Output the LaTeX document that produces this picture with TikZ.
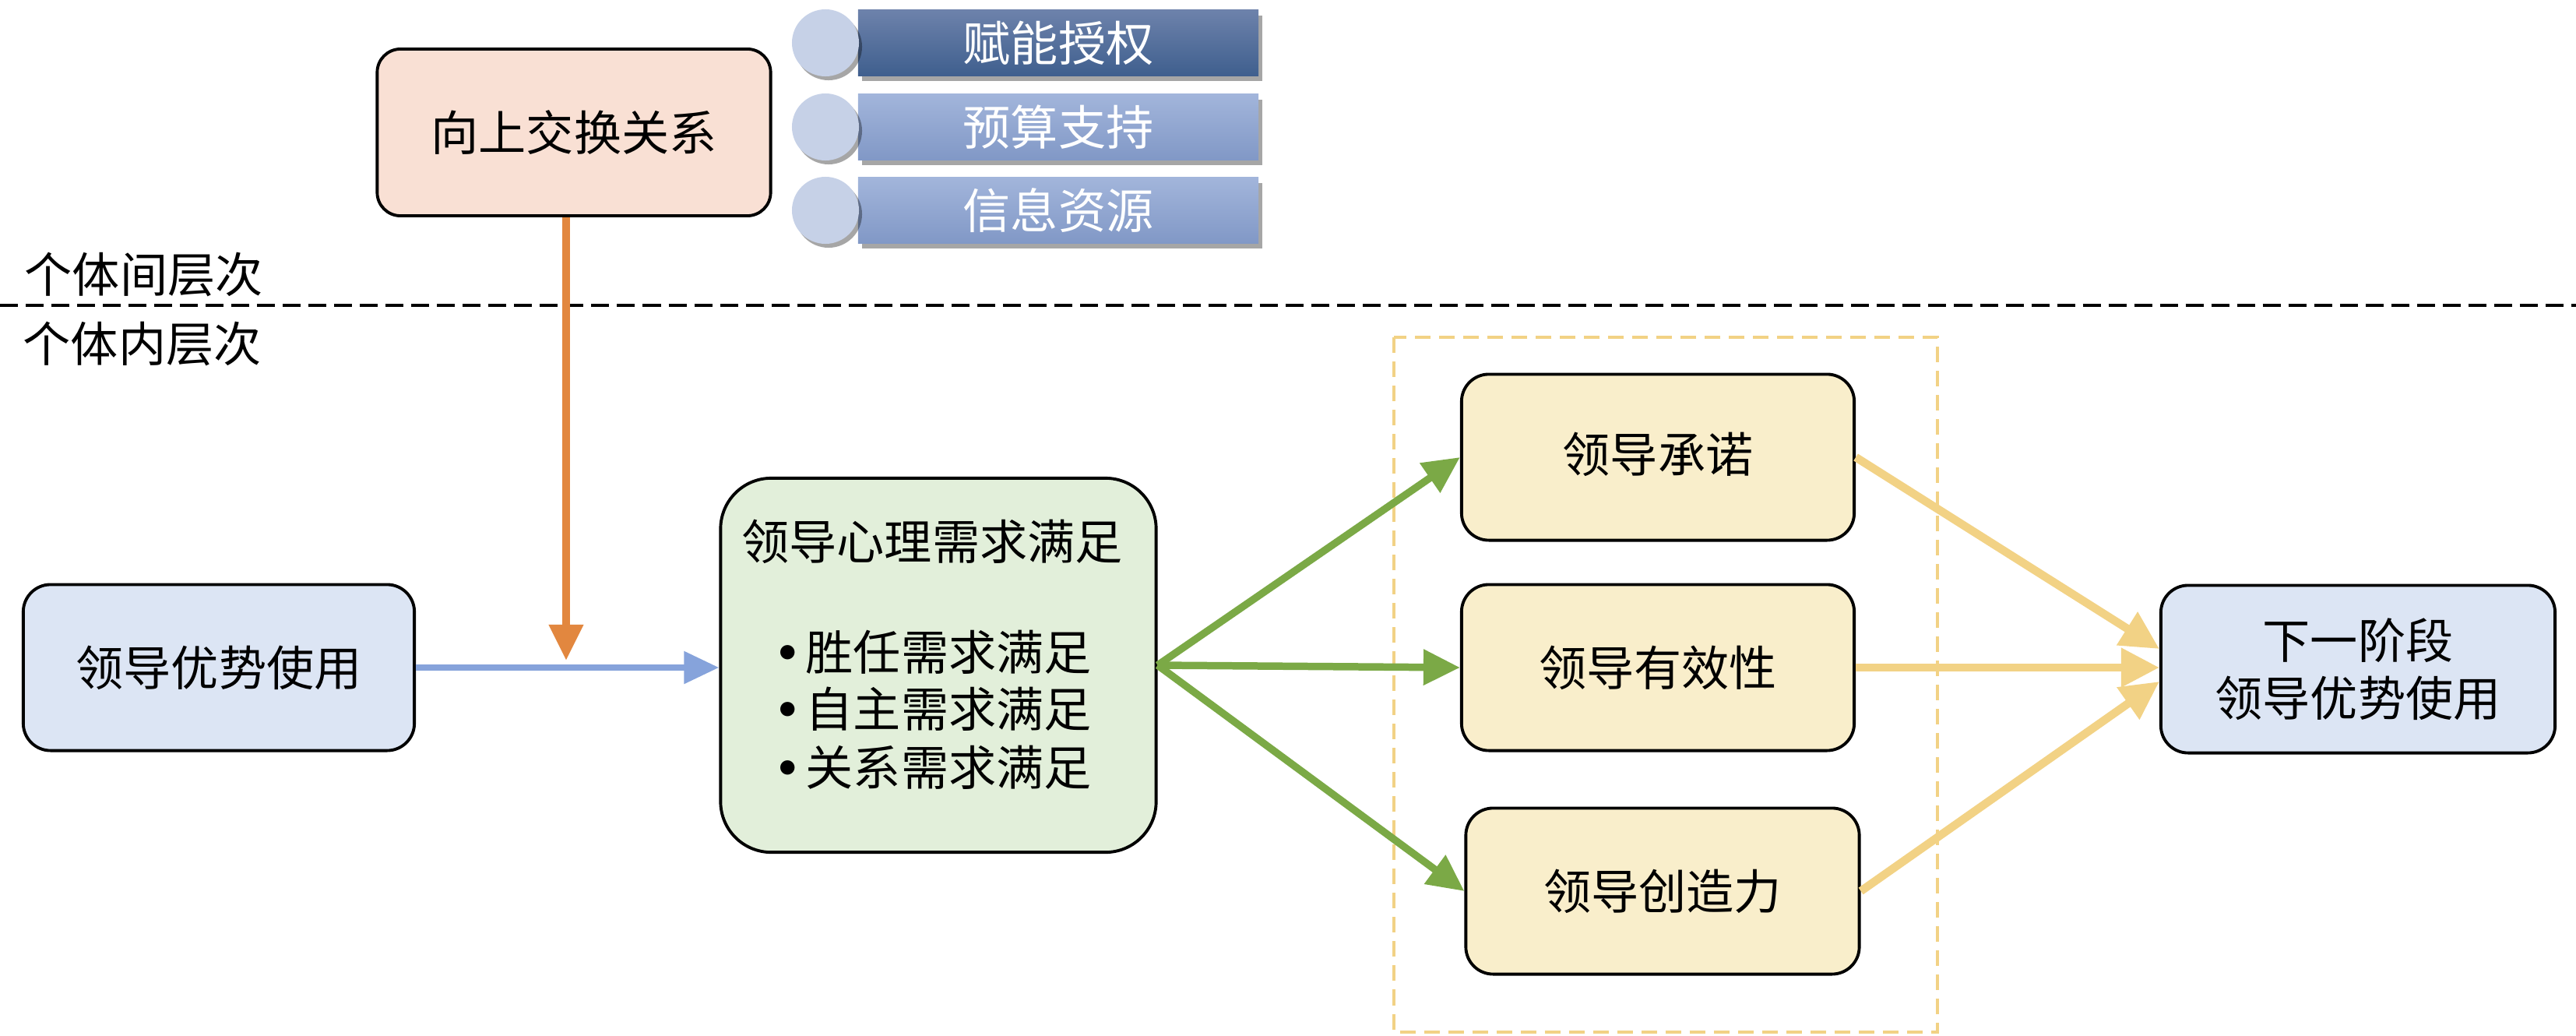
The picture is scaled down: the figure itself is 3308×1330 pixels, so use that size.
\documentclass[tikz,border=0pt]{standalone}
\usepackage{fontspec}
\setmainfont{Noto Sans CJK SC}
\usetikzlibrary{arrows.meta,shadows,calc}
\definecolor{peach}{HTML}{F9E0D4}
\definecolor{lblue}{HTML}{DCE5F4}
\definecolor{lgreen}{HTML}{E2EFDA}
\definecolor{lyellow}{HTML}{F9EECB}
\definecolor{goldA}{HTML}{F2D285}
\definecolor{greenA}{HTML}{7BA946}
\definecolor{blueA}{HTML}{86A3DB}
\definecolor{orangeA}{HTML}{E2873F}
\definecolor{tabDtop}{HTML}{6D82AB}
\definecolor{tabDbot}{HTML}{3F5F8E}
\definecolor{tabLtop}{HTML}{A2B5DB}
\definecolor{tabLbot}{HTML}{8198C6}
\definecolor{circC}{HTML}{C6D1E7}
\newcommand\fsz{\fontsize{17.4pt}{21pt}\selectfont}
\newcommand\bdot{\makebox[0.46cm][c]{\raisebox{4.3pt}{\fontsize{5.8pt}{6pt}\selectfont ●}}}
\begin{document}
\begin{tikzpicture}[x=0.01cm,y=-0.01cm,
  box/.style={draw=black, line width=1.1pt, rounded corners=0.35cm, font=\fsz, align=center, inner sep=0pt},
  txt/.style={font=\fsz, inner sep=0pt},
  tabbar/.style={draw=none, minimum width=5.14cm, minimum height=0.84cm, inner sep=0pt, font=\fsz, text=white,
     drop shadow={shadow xshift=0.05cm, shadow yshift=-0.07cm, opacity=0.35, fill=black}},
  tabdark/.style={tabbar, top color=tabDtop, bottom color=tabDbot},
  tablight/.style={tabbar, top color=tabLtop, bottom color=tabLbot},
  tabcirc/.style={circle, draw=none, fill=circC, minimum size=0.86cm, inner sep=0pt,
     drop shadow={shadow xshift=0.04cm, shadow yshift=-0.05cm, opacity=0.35, fill=black}},
  conn/.style={-{Triangle[length=0.47cm,width=0.44cm]}},
  ]
\useasboundingbox (0,0) rectangle (3308,1330);

% dashed frame around outcomes
\draw[goldA, line width=1.1pt, dash pattern=on 0.2cm off 0.11cm] (1790,433) rectangle (2488,1325);

% level separator
\coordinate (sepL) at (0,392);
\coordinate (sepR) at (3308,392);
\draw[black, line width=1pt, dash pattern=on 0.23cm off 0.1cm] (sepL) -- (sepR);
\node[txt, anchor=west] (lvlA) at (31,352) {个体间层次};
\node[txt, anchor=west] (lvlB) at (29,441) {个体内层次};

% top tabs
\node[tabdark] (t1) at (1359,55) {赋能授权};
\node[tabcirc] (k1) at (1060,55) {};
\node[tablight] (t2) at (1359,163) {预算支持};
\node[tabcirc] (k2) at (1060,163) {};
\node[tablight] (t3) at (1359,270) {信息资源};
\node[tabcirc] (k3) at (1060,270) {};

% main nodes
\node[box, fill=peach, minimum width=5.05cm, minimum height=2.14cm, rounded corners=0.3cm] (up) at (737,170) {向上交换关系};
\node[box, fill=lblue, minimum width=5.02cm, minimum height=2.13cm] (lb) at (281,857) {领导优势使用};
\node[box, fill=lgreen, minimum width=5.59cm, minimum height=4.8cm, rounded corners=0.65cm] (psy) at (1205,854) {};
\node[txt] (psyt) at (1197,695) {领导心理需求满足};
\node[txt, anchor=west] (b1) at (988,837) {\bdot 胜任需求满足};
\node[txt, anchor=west] (b2) at (988,910) {\bdot 自主需求满足};
\node[txt, anchor=west] (b3) at (988,985) {\bdot 关系需求满足};

\node[box, fill=lyellow, minimum width=5.04cm, minimum height=2.13cm] (c1) at (2129,587) {\raisebox{0.13cm}{领导承诺}};
\node[box, fill=lyellow, minimum width=5.04cm, minimum height=2.13cm] (c2) at (2129,857) {领导有效性};
\node[box, fill=lyellow, minimum width=5.05cm, minimum height=2.13cm] (c3) at (2135,1144) {领导创造力};
\node[box, fill=lblue, minimum width=5.06cm, minimum height=2.15cm] (nx) at (3028,859) {下一阶段\\领导优势使用};

% connectors
\draw[blueA, line width=2.4pt, -{Triangle[length=0.45cm,width=0.4cm]}] (lb.east) -- (lb.east -| psy.west);
\coordinate (mod) at (727,848);
\draw[orangeA, line width=2.8pt, -{Triangle[length=0.46cm,width=0.42cm]}] (up.south -| mod) -- (mod);

\draw[greenA, line width=2.7pt, conn] (psy.east) -- (c1.west);
\draw[greenA, line width=2.7pt, conn] (psy.east) -- (c2.west);
\draw[greenA, line width=2.7pt, conn] (psy.east) -- (c3.west);

\draw[goldA, line width=3pt, -{Triangle[length=0.49cm,width=0.48cm]}] (c1.east) -- ($(nx.west)+(0,-26)$);
\draw[goldA, line width=3pt, -{Triangle[length=0.49cm,width=0.48cm]}] (c2.east) -- (c2.east -| nx.west);
\draw[goldA, line width=3pt, -{Triangle[length=0.49cm,width=0.48cm]}] (c3.east) -- ($(nx.west)+(0,16)$);
\end{tikzpicture}
\end{document}
